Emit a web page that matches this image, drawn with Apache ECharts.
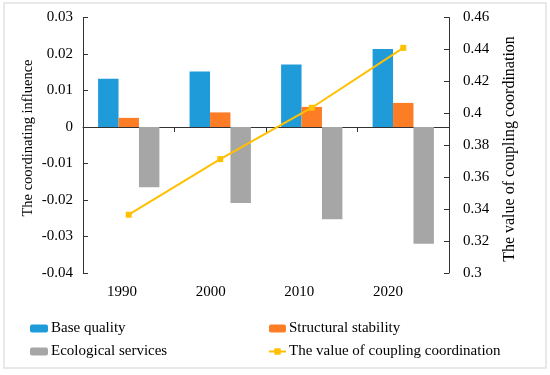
<!DOCTYPE html>
<html><head><meta charset="utf-8">
<script src="https://cdn.jsdelivr.net/npm/echarts@6/dist/echarts.min.js"></script>
<style>html,body{margin:0;padding:0;background:#fff}#c{width:550px;height:375px}</style>
</head><body><div id="c"></div>
<script>
const categories = ['1990', '2000', '2010', '2020'];
const baseQuality = [0.0132, 0.0152, 0.0171, 0.0214];
const structuralStability = [0.0025, 0.0040, 0.0055, 0.0066];
const ecologicalServices = [-0.0165, -0.0208, -0.0253, -0.0320];
const couplingValue = [0.3365, 0.3713, 0.4035, 0.4410];
const leftTicks = {min: -0.04, max: 0.03, interval: 0.01};
const rightTicks = {min: 0.30, max: 0.46, interval: 0.02};
const leftTitle = 'The coordinating influence';
const rightTitle = 'The value of coupling coordination';

const font = 'Liberation Serif';
const chart = echarts.init(document.getElementById('c'), null, {renderer: 'canvas'});
const fmt = v => {
  if (Math.abs(v) < 1e-9) return '0';
  return String(parseFloat(v.toFixed(4)));
};
const legendText = {fontFamily: font, fontSize: 15, color: '#000', padding: [0, 0, 0, -2]};
chart.setOption({
  animation: false,
  textStyle: {fontFamily: font, color: '#000'},
  graphic: [
    {type: 'rect', shape: {x: 4, y: 3, width: 542, height: 365}, style: {fill: 'none', stroke: '#e2e2e2', lineWidth: 1.5}, silent: true},
    {type: 'text', x: 28, y: 138, rotation: Math.PI / 2,
     style: {text: leftTitle, font: '14.5px "Liberation Serif"', fill: '#000', align: 'center', verticalAlign: 'middle'}},
    {type: 'text', x: 510, y: 149, rotation: Math.PI / 2,
     style: {text: rightTitle, font: '16px "Liberation Serif"', fill: '#000', align: 'center', verticalAlign: 'middle'}}
  ],
  grid: [
    {left: 83, right: 101, top: 17.5, bottom: 102},
    {left: 77.7, right: 117.7, top: 17.5, bottom: 102}
  ],
  legend: [
    {orient: 'vertical', left: 30, top: 321, padding: 0, itemGap: 8, itemWidth: 18, itemHeight: 8,
     textStyle: legendText, data: ['Base quality', 'Ecological services']},
    {orient: 'vertical', left: 268, top: 321, padding: 0, itemGap: 8, itemWidth: 17, itemHeight: 8,
     textStyle: legendText, data: ['Structural stability', 'The value of coupling coordination']}
  ],
  xAxis: [
    {type: 'category', data: categories, position: 'bottom', gridIndex: 0,
     axisLine: {onZero: true, onZeroAxisIndex: 0, lineStyle: {color: '#333', width: 1}},
     axisTick: {show: true, inside: false, length: 5, lineStyle: {color: '#333'}},
     axisLabel: {show: false}},
    {type: 'category', data: categories, position: 'bottom', gridIndex: 1,
     axisLine: {show: false}, axisTick: {show: false},
     axisLabel: {fontFamily: font, fontSize: 15, color: '#000', margin: 12}}
  ],
  yAxis: [
    {type: 'value', gridIndex: 0, min: leftTicks.min, max: leftTicks.max, interval: leftTicks.interval,
     axisLine: {show: true, lineStyle: {color: '#333'}},
     axisTick: {show: true, inside: true, length: 5, lineStyle: {color: '#333'}},
     splitLine: {show: false},
     axisLabel: {fontFamily: font, fontSize: 15, color: '#000', margin: 10, formatter: fmt}},
    {type: 'value', gridIndex: 0, min: rightTicks.min, max: rightTicks.max, interval: rightTicks.interval,
     axisLine: {show: true, lineStyle: {color: '#333'}},
     axisTick: {show: true, inside: true, length: 5, lineStyle: {color: '#333'}},
     splitLine: {show: false},
     axisLabel: {fontFamily: font, fontSize: 15, color: '#000', margin: 14, formatter: fmt}},
    {type: 'value', gridIndex: 1, show: false}
  ],
  series: [
    {name: 'Base quality', type: 'bar', data: baseQuality, itemStyle: {color: '#1f9bd9'},
     barGap: '0%', barCategoryGap: '33%'},
    {name: 'Structural stability', type: 'bar', data: structuralStability, itemStyle: {color: '#fd7d27'},
     barGap: '0%', barCategoryGap: '33%'},
    {name: 'Ecological services', type: 'bar', data: ecologicalServices, itemStyle: {color: '#a6a6a6'},
     barGap: '0%', barCategoryGap: '33%'},
    {name: 'The value of coupling coordination', type: 'line', yAxisIndex: 1, data: couplingValue,
     symbol: 'rect', symbolSize: 6, lineStyle: {color: '#ffc000', width: 2},
     itemStyle: {color: '#ffc000'}, z: 5}
  ]
});
</script></body></html>
